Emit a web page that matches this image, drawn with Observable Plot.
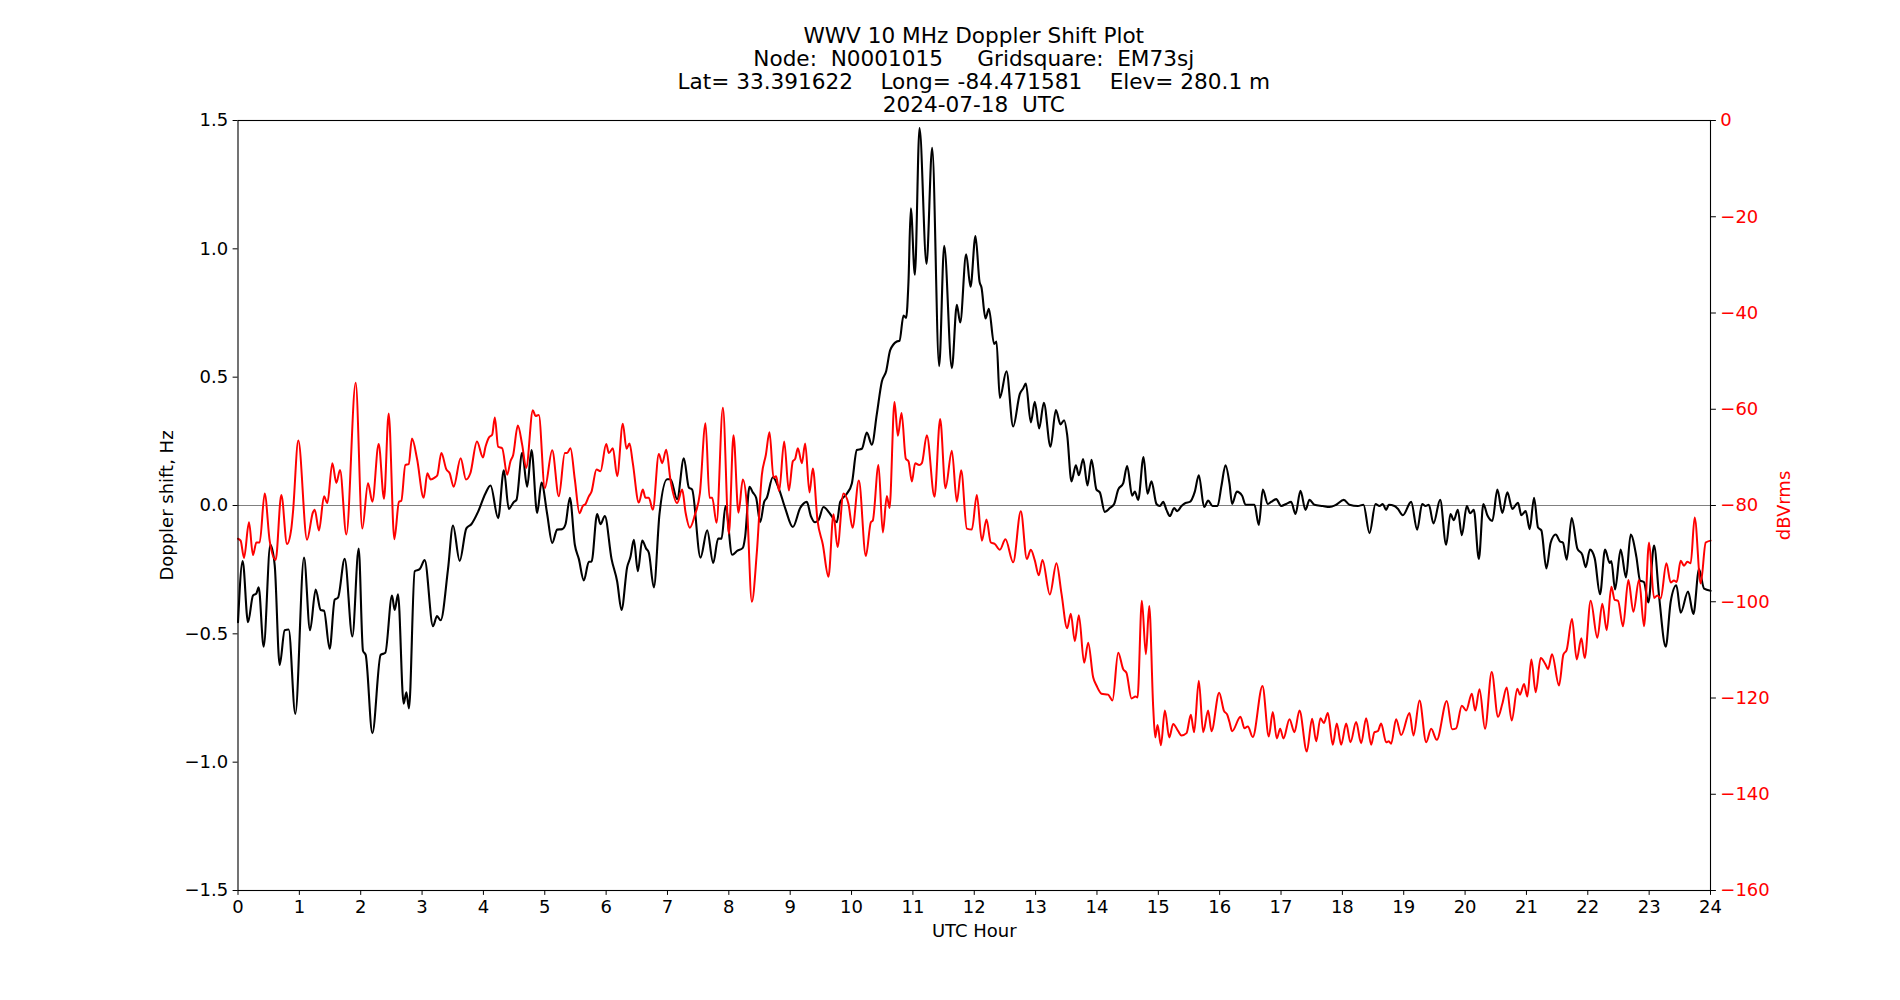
<!DOCTYPE html>
<html>
<head>
<meta charset="utf-8">
<script src="https://cdn.jsdelivr.net/npm/d3@7"></script>
<script src="https://cdn.jsdelivr.net/npm/@observablehq/plot@0.6"></script>
<style>
  body { margin: 0; background: #fff; font-family: "DejaVu Sans", sans-serif; }
  #title {
    box-sizing: border-box; width: 1900px; height: 116px;
    padding-top: 24px; padding-left: 47.5px;
    text-align: center; font-size: 21.6px; line-height: 23px;
    white-space: pre; color: #000;
  }
</style>
</head>
<body>
<div id="title"></div>
<div id="chart"></div>
<script>
// Title block
const titleLines = [
  "WWV 10 MHz Doppler Shift Plot",
  "Node:  N0001015     Gridsquare:  EM73sj",
  "Lat= 33.391622    Long= -84.471581    Elev= 280.1 m",
  "2024-07-18  UTC"
];

// Axis ticks
const hourTicks = d3.range(0, 25);
const dopplerTicks = [-1.5, -1.0, -0.5, 0.0, 0.5, 1.0, 1.5];
const dbTicks = [0, -20, -40, -60, -80, -100, -120, -140, -160];

// Doppler shift (Hz) against UTC hour
const dopplerShift = [
  [0.000,-0.455],[0.076,-0.216],[0.163,-0.455],[0.244,-0.351],[0.299,-0.343],[0.337,-0.319],
  [0.418,-0.550],[0.527,-0.153],[0.598,-0.232],[0.679,-0.621],[0.761,-0.486],[0.826,-0.483],
  [0.934,-0.812],[1.076,-0.203],[1.174,-0.486],[1.266,-0.327],[1.347,-0.407],[1.402,-0.410],
  [1.494,-0.558],[1.576,-0.367],[1.630,-0.359],[1.739,-0.208],[1.864,-0.510],[1.967,-0.168],
  [2.037,-0.566],[2.081,-0.582],[2.190,-0.887],[2.325,-0.582],[2.401,-0.574],[2.510,-0.351],
  [2.554,-0.407],[2.608,-0.346],[2.700,-0.772],[2.744,-0.728],[2.787,-0.791],[2.880,-0.256],
  [2.961,-0.248],[3.043,-0.213],[3.178,-0.470],[3.244,-0.431],[3.303,-0.447],[3.423,-0.248],
  [3.504,-0.078],[3.613,-0.216],[3.722,-0.089],[3.803,-0.073],[3.912,-0.025],[4.031,0.046],
  [4.116,0.078],[4.240,-0.049],[4.333,0.137],[4.414,-0.013],[4.496,0.014],[4.539,0.022],
  [4.632,0.205],[4.713,0.073],[4.784,0.216],[4.876,-0.029],[4.947,0.089],[5.039,-0.033],
  [5.121,-0.146],[5.202,-0.094],[5.284,-0.092],[5.338,-0.073],[5.409,0.030],[5.490,-0.153],
  [5.555,-0.208],[5.637,-0.292],[5.718,-0.219],[5.762,-0.219],[5.854,-0.033],[5.908,-0.073],
  [5.979,-0.041],[6.088,-0.208],[6.180,-0.296],[6.251,-0.407],[6.343,-0.240],[6.397,-0.200],
  [6.452,-0.134],[6.517,-0.256],[6.588,-0.137],[6.653,-0.168],[6.696,-0.184],[6.778,-0.319],
  [6.870,-0.033],[6.995,0.102],[7.049,0.102],[7.158,0.025],[7.267,0.184],[7.348,0.070],
  [7.402,0.062],[7.538,-0.203],[7.647,-0.097],[7.745,-0.224],[7.826,-0.129],[7.881,-0.129],
  [7.946,-0.002],[8.054,-0.192],[8.141,-0.176],[8.228,-0.165],[8.266,-0.121],[8.337,0.073],
  [8.391,0.051],[8.445,0.030],[8.511,-0.065],[8.576,0.014],[8.619,0.030],[8.717,0.110],
  [8.809,0.070],[8.918,-0.010],[9.043,-0.084],[9.163,-0.010],[9.271,0.014],[9.337,-0.041],
  [9.407,-0.065],[9.461,-0.057],[9.543,-0.006],[9.652,-0.033],[9.760,-0.065],[9.815,0.014],
  [9.923,0.046],[10.005,0.086],[10.086,0.216],[10.168,0.221],[10.249,0.284],[10.331,0.237],
  [10.412,0.356],[10.494,0.483],[10.564,0.523],[10.630,0.605],[10.738,0.639],[10.782,0.642],
  [10.847,0.740],[10.890,0.731],[10.928,0.872],[10.966,1.158],[11.032,0.899],[11.108,1.471],
  [11.222,0.941],[11.314,1.394],[11.428,0.543],[11.510,1.012],[11.635,0.535],[11.716,0.782],
  [11.771,0.713],[11.868,0.979],[11.939,0.852],[12.020,1.050],[12.086,0.872],[12.118,0.849],
  [12.183,0.729],[12.238,0.766],[12.324,0.629],[12.362,0.639],[12.417,0.419],[12.525,0.523],
  [12.634,0.308],[12.743,0.435],[12.797,0.456],[12.841,0.475],[12.922,0.324],[12.987,0.404],
  [13.058,0.300],[13.134,0.400],[13.243,0.229],[13.330,0.372],[13.406,0.316],[13.465,0.332],
  [13.514,0.276],[13.585,0.094],[13.656,0.157],[13.705,0.118],[13.775,0.181],[13.846,0.078],
  [13.911,0.178],[13.992,0.062],[14.047,0.051],[14.128,-0.025],[14.210,-0.010],[14.280,0.006],
  [14.346,0.062],[14.427,0.086],[14.492,0.154],[14.574,0.038],[14.617,0.054],[14.672,0.022],
  [14.759,0.189],[14.824,0.046],[14.889,0.094],[14.970,0.006],[15.025,-0.002],[15.079,0.014],
  [15.133,-0.017],[15.188,-0.041],[15.258,-0.010],[15.307,-0.022],[15.378,-0.002],[15.443,0.010],
  [15.514,0.014],[15.595,0.054],[15.660,0.118],[15.747,-0.006],[15.812,0.019],[15.883,-0.002],
  [15.965,-0.002],[16.030,0.078],[16.095,0.157],[16.160,0.086],[16.203,0.006],[16.280,0.054],
  [16.366,0.038],[16.421,0.003],[16.567,0.003],[16.638,-0.076],[16.703,0.062],[16.785,0.006],
  [16.839,0.014],[16.921,0.025],[17.002,-0.002],[17.084,0.006],[17.165,0.014],[17.236,-0.033],
  [17.317,0.057],[17.399,-0.017],[17.464,0.022],[17.545,0.003],[17.681,-0.002],[17.790,-0.006],
  [17.899,0.003],[18.023,0.022],[18.116,0.003],[18.252,-0.002],[18.344,0.003],[18.442,-0.108],
  [18.540,0.006],[18.605,-0.002],[18.659,0.006],[18.713,-0.017],[18.757,0.003],[18.849,-0.002],
  [18.904,-0.013],[18.985,-0.038],[19.121,0.014],[19.219,-0.094],[19.300,0.006],[19.355,-0.002],
  [19.409,0.003],[19.485,-0.070],[19.594,0.022],[19.691,-0.153],[19.762,-0.033],[19.816,-0.057],
  [19.882,-0.017],[19.947,-0.116],[20.028,-0.002],[20.083,-0.030],[20.142,-0.017],[20.224,-0.208],
  [20.298,0.006],[20.363,-0.038],[20.445,-0.060],[20.526,0.062],[20.607,-0.029],[20.689,0.051],
  [20.770,-0.013],[20.863,0.011],[20.917,-0.038],[20.988,-0.022],[21.053,-0.092],[21.124,0.030],
  [21.189,-0.086],[21.243,-0.097],[21.325,-0.245],[21.395,-0.145],[21.477,-0.113],[21.547,-0.140],
  [21.596,-0.145],[21.656,-0.211],[21.738,-0.049],[21.830,-0.168],[21.911,-0.192],[21.966,-0.240],
  [22.036,-0.172],[22.112,-0.205],[22.199,-0.346],[22.281,-0.172],[22.357,-0.224],[22.384,-0.216],
  [22.444,-0.327],[22.536,-0.172],[22.623,-0.280],[22.699,-0.113],[22.792,-0.200],[22.851,-0.292],
  [22.917,-0.299],[22.987,-0.378],[23.080,-0.156],[23.161,-0.351],[23.270,-0.550],[23.351,-0.375],
  [23.444,-0.311],[23.514,-0.418],[23.634,-0.335],[23.721,-0.423],[23.813,-0.248],[23.895,-0.324],
  [24.000,-0.332]
];

// Received signal level (dBVrms) against UTC hour
const signalLevel = [
  [0.000,-86.9],[0.043,-87.3],[0.098,-90.9],[0.179,-83.5],[0.244,-90.3],[0.299,-87.7],
  [0.353,-87.7],[0.435,-77.5],[0.516,-87.3],[0.614,-91.3],[0.706,-77.8],[0.799,-88.0],
  [0.869,-84.8],[0.896,-81.4],[0.983,-66.5],[1.125,-87.1],[1.222,-81.4],[1.250,-80.9],
  [1.320,-85.2],[1.402,-78.1],[1.456,-79.5],[1.538,-71.2],[1.603,-75.3],[1.663,-72.6],
  [1.766,-86.0],[1.918,-54.5],[2.026,-84.8],[2.119,-75.4],[2.190,-79.2],[2.293,-67.2],
  [2.380,-78.6],[2.456,-60.9],[2.548,-87.0],[2.624,-79.2],[2.662,-79.0],[2.727,-71.6],
  [2.782,-71.4],[2.836,-66.1],[2.918,-70.3],[3.026,-78.4],[3.086,-73.3],[3.140,-74.6],
  [3.206,-74.2],[3.249,-73.7],[3.314,-69.1],[3.396,-72.5],[3.450,-73.3],[3.515,-76.1],
  [3.629,-70.2],[3.716,-74.6],[3.787,-73.3],[3.895,-66.7],[3.993,-70.0],[4.034,-67.8],
  [4.088,-65.9],[4.143,-65.3],[4.186,-61.7],[4.240,-67.8],[4.306,-68.1],[4.387,-73.6],
  [4.441,-70.8],[4.485,-69.5],[4.561,-63.4],[4.632,-67.4],[4.697,-72.2],[4.806,-60.2],
  [4.849,-61.4],[4.903,-61.2],[5.001,-76.4],[5.121,-68.5],[5.229,-78.1],[5.327,-69.1],
  [5.365,-69.1],[5.419,-68.1],[5.490,-74.6],[5.566,-81.6],[5.620,-80.1],[5.664,-79.7],
  [5.718,-78.1],[5.762,-77.1],[5.843,-72.5],[5.908,-72.9],[6.001,-67.2],[6.045,-69.1],
  [6.110,-68.1],[6.180,-73.9],[6.272,-63.0],[6.332,-68.2],[6.381,-67.1],[6.435,-71.2],
  [6.533,-79.4],[6.598,-76.7],[6.642,-78.4],[6.696,-78.4],[6.761,-80.9],[6.859,-69.3],
  [6.914,-71.2],[6.979,-68.4],[7.049,-74.7],[7.158,-79.5],[7.240,-76.7],[7.294,-81.4],
  [7.365,-84.6],[7.446,-82.0],[7.528,-77.5],[7.620,-62.9],[7.685,-78.4],[7.729,-78.4],
  [7.800,-83.6],[7.903,-59.7],[8.001,-85.9],[8.076,-65.4],[8.157,-81.5],[8.228,-74.6],
  [8.293,-79.7],[8.375,-100.0],[8.456,-89.8],[8.538,-73.7],[8.603,-69.5],[8.663,-64.8],
  [8.728,-74.2],[8.771,-73.9],[8.820,-77.0],[8.902,-66.7],[8.978,-76.9],[9.043,-70.8],
  [9.081,-70.3],[9.125,-68.1],[9.190,-71.2],[9.244,-67.1],[9.315,-77.3],[9.369,-72.3],
  [9.445,-83.1],[9.532,-88.1],[9.624,-94.8],[9.706,-81.8],[9.771,-88.6],[9.869,-77.5],
  [9.950,-79.7],[10.016,-84.6],[10.119,-74.8],[10.233,-90.5],[10.314,-83.5],[10.347,-83.1],
  [10.439,-71.6],[10.510,-85.6],[10.575,-78.0],[10.619,-80.5],[10.700,-58.5],[10.755,-65.5],
  [10.815,-60.8],[10.885,-70.3],[10.928,-70.8],[10.983,-75.0],[11.037,-71.2],[11.102,-71.6],
  [11.146,-71.2],[11.227,-65.4],[11.352,-78.2],[11.444,-62.0],[11.531,-76.4],[11.635,-68.6],
  [11.716,-79.2],[11.787,-72.7],[11.879,-84.8],[11.961,-85.0],[12.042,-77.8],[12.124,-87.3],
  [12.199,-82.9],[12.270,-87.7],[12.335,-88.0],[12.417,-89.2],[12.509,-87.0],[12.634,-91.8],
  [12.759,-81.2],[12.857,-91.1],[12.922,-89.2],[12.987,-91.4],[13.052,-94.5],[13.112,-91.3],
  [13.232,-98.5],[13.340,-92.0],[13.422,-98.3],[13.514,-105.5],[13.574,-102.5],[13.639,-108.2],
  [13.705,-102.8],[13.791,-112.7],[13.857,-108.5],[13.938,-115.7],[13.992,-117.4],[14.074,-119.1],
  [14.182,-119.3],[14.253,-120.5],[14.346,-110.6],[14.427,-114.0],[14.481,-114.8],[14.563,-120.1],
  [14.628,-119.7],[14.661,-119.9],[14.732,-99.8],[14.797,-110.9],[14.852,-100.9],[14.917,-122.0],
  [14.950,-128.2],[14.988,-125.6],[15.042,-129.8],[15.107,-122.6],[15.178,-128.2],[15.242,-125.4],
  [15.324,-126.9],[15.378,-127.8],[15.460,-127.3],[15.530,-123.5],[15.584,-127.1],[15.660,-116.4],
  [15.731,-127.1],[15.812,-122.6],[15.867,-126.9],[15.992,-118.9],[16.068,-122.6],[16.128,-123.6],
  [16.160,-125.0],[16.203,-126.9],[16.339,-123.9],[16.405,-126.3],[16.459,-125.9],[16.540,-128.1],
  [16.698,-117.5],[16.801,-128.0],[16.866,-122.9],[16.931,-128.4],[16.986,-126.4],[17.040,-128.4],
  [17.138,-124.4],[17.219,-127.1],[17.301,-122.6],[17.420,-131.1],[17.507,-124.3],[17.573,-129.0],
  [17.643,-124.2],[17.698,-125.2],[17.763,-123.1],[17.844,-129.7],[17.909,-125.3],[17.980,-129.7],
  [18.062,-125.3],[18.132,-129.2],[18.224,-125.0],[18.306,-129.4],[18.388,-124.2],[18.469,-129.7],
  [18.523,-127.1],[18.578,-126.9],[18.632,-125.3],[18.713,-129.2],[18.757,-129.0],[18.795,-129.5],
  [18.876,-124.4],[18.958,-127.7],[19.094,-123.1],[19.159,-127.8],[19.257,-120.5],[19.366,-129.2],
  [19.447,-126.4],[19.539,-128.7],[19.702,-120.6],[19.789,-126.5],[19.854,-126.3],[19.947,-121.6],
  [20.018,-122.6],[20.110,-119.1],[20.164,-122.6],[20.235,-118.2],[20.325,-126.4],[20.434,-114.6],
  [20.537,-123.9],[20.607,-121.2],[20.678,-117.8],[20.760,-124.7],[20.852,-118.1],[20.895,-119.3],
  [20.961,-117.1],[21.015,-119.7],[21.080,-112.0],[21.151,-118.8],[21.232,-111.7],[21.314,-113.1],
  [21.352,-114.0],[21.417,-110.9],[21.531,-117.4],[21.602,-111.0],[21.656,-110.0],[21.743,-103.6],
  [21.819,-112.0],[21.895,-107.6],[21.949,-111.7],[22.047,-99.8],[22.156,-107.5],[22.237,-100.4],
  [22.308,-105.9],[22.384,-96.9],[22.438,-99.6],[22.493,-99.8],[22.574,-105.1],[22.661,-95.5],
  [22.743,-102.1],[22.835,-95.5],[22.917,-105.1],[22.998,-87.7],[23.080,-99.2],[23.134,-98.7],
  [23.188,-99.3],[23.281,-92.0],[23.351,-96.0],[23.405,-95.6],[23.449,-95.9],[23.514,-91.5],
  [23.568,-92.5],[23.623,-91.7],[23.677,-92.0],[23.742,-82.5],[23.840,-96.2],[23.922,-87.7],
  [24.000,-87.3]
];

document.getElementById("title").textContent = titleLines.join("\n");

// The dBVrms axis (0 .. -160) shares the plot's y scale (1.5 .. -1.5 Hz)
const dbToY = db => 1.5 + db * 3 / 160;
const yToDb = y => (y - 1.5) * 160 / 3;

const fmtHz = d3.format(".1f");
const fmtDb = d3.format("d");
const FS = 18;

const chart = Plot.plot({
  width: 1900,
  height: 884,
  marginLeft: 237.5,
  marginRight: 190,
  marginTop: 4,
  marginBottom: 110,
  style: {fontFamily: "DejaVu Sans", fontSize: FS + "px", background: "white", color: "black", overflow: "visible"},
  x: {domain: [0, 24]},
  y: {domain: [-1.5, 1.5]},
  marks: [
    Plot.ruleY([0], {stroke: "#808080", strokeWidth: 1.2}),
    Plot.line(dopplerShift, {x: d => d[0], y: d => d[1], stroke: "black", strokeWidth: 2.1, curve: "monotone-x"}),
    Plot.line(signalLevel, {x: d => d[0], y: d => dbToY(d[1]), stroke: "red", strokeWidth: 2, curve: "monotone-x"}),
    Plot.frame({stroke: "black", strokeWidth: 1.1}),
    Plot.axisX(hourTicks, {tickSize: 4.9, tickPadding: 4.9, tickFormat: d => String(d), label: null, fontSize: FS}),
    Plot.axisY(dopplerTicks, {anchor: "left", tickSize: 4.9, tickPadding: 4.9, tickFormat: fmtHz, label: null, fontSize: FS}),
    Plot.axisY(dbTicks.map(dbToY), {anchor: "right", tickSize: 4.9, tickPadding: 4.9,
      tickFormat: y => fmtDb(Math.round(yToDb(y))), fill: "red", label: null, fontSize: FS}),
    Plot.text(["UTC Hour"], {text: d => d, frameAnchor: "bottom", lineAnchor: "middle", textAnchor: "middle", dy: 40.6, fontSize: FS}),
    Plot.text(["Doppler shift, Hz"], {text: d => d, frameAnchor: "left", textAnchor: "middle", lineAnchor: "middle", dx: -70.5, rotate: -90, fontSize: FS}),
    Plot.text(["dBVrms"], {text: d => d, frameAnchor: "right", textAnchor: "middle", lineAnchor: "middle", dx: 73.5, rotate: -90, fill: "red", fontSize: FS})
  ]
});

document.getElementById("chart").appendChild(chart);
</script>
</body>
</html>
